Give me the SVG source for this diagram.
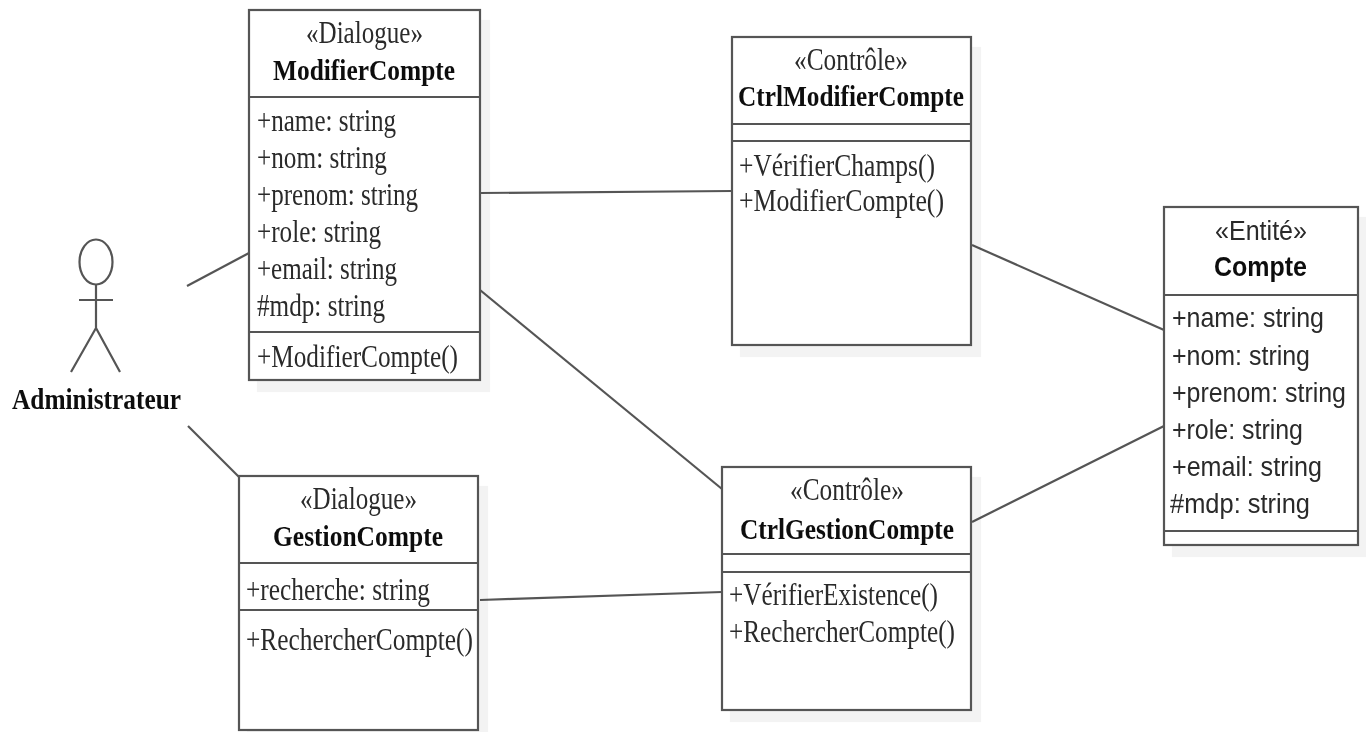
<svg xmlns="http://www.w3.org/2000/svg" width="1366" height="732" viewBox="0 0 1366 732">
<defs><filter id="sh" x="-5%" y="-5%" width="115%" height="115%"><feOffset dx="9" dy="11" in="SourceAlpha"/><feComponentTransfer><feFuncA type="linear" slope="0.05"/></feComponentTransfer><feMerge><feMergeNode/><feMergeNode in="SourceGraphic"/></feMerge></filter>
<filter id="soft" x="0" y="0" width="1366" height="732" filterUnits="userSpaceOnUse"><feGaussianBlur stdDeviation="0.5"/></filter></defs>
<style>
.b{fill:#fff;stroke:#555;stroke-width:2.2}
.l{stroke:#555;stroke-width:2.2;fill:none}
text{font-family:"Liberation Serif",serif;font-size:31px;fill:#2a2a2a}
.h{font-weight:bold;fill:#111;font-size:29px}
.s{font-family:"Liberation Sans",sans-serif;font-size:27.5px}
.ss{font-family:"Liberation Sans",sans-serif;font-size:27.5px}
.sh{font-family:"Liberation Sans",sans-serif;font-weight:bold;font-size:28px;fill:#111}
</style>
<g filter="url(#soft)">
<rect width="1366" height="732" fill="#fff"/>
<g id="connectors" class="l">
<path d="M187 286L249 253"/><path d="M188 426L240 478"/><path d="M480 193L732 191"/><path d="M480 290L722 489"/><path d="M480 600L722 592"/><path d="M972 245L1164 330"/><path d="M972 522L1164 426"/>
</g>
<g id="actor"><g class="l"><ellipse cx="96" cy="262" rx="16.500" ry="22.500"/><path d="M96 285V328M79 300H113M96 328L71 372M96 328L120 372"/></g>
<text x="12" y="409" class="h" textLength="169" lengthAdjust="spacingAndGlyphs">Administrateur</text></g>
<g id="modifier"><g filter="url(#sh)"><rect class="b" x="249" y="10" width="231" height="370"/></g><path class="l" d="M249 97H480M249 332H480"/>
<text x="306" y="43" textLength="117" lengthAdjust="spacingAndGlyphs">«Dialogue»</text><text class="h" x="273" y="80" textLength="182" lengthAdjust="spacingAndGlyphs">ModifierCompte</text>
<text x="257" y="131" textLength="139" lengthAdjust="spacingAndGlyphs">+name: string</text><text x="257" y="168" textLength="130" lengthAdjust="spacingAndGlyphs">+nom: string</text><text x="257" y="205" textLength="161" lengthAdjust="spacingAndGlyphs">+prenom: string</text><text x="257" y="242" textLength="124" lengthAdjust="spacingAndGlyphs">+role: string</text><text x="257" y="279" textLength="140" lengthAdjust="spacingAndGlyphs">+email: string</text><text x="257" y="316" textLength="128" lengthAdjust="spacingAndGlyphs">#mdp: string</text><text x="257" y="367" textLength="201" lengthAdjust="spacingAndGlyphs">+ModifierCompte()</text></g>
<g id="ctrlmod"><g filter="url(#sh)"><rect class="b" x="732" y="37" width="239" height="308"/></g><path class="l" d="M732 124H971M732 141H971"/>
<text x="794" y="70" textLength="114" lengthAdjust="spacingAndGlyphs">«Contrôle»</text><text class="h" x="738" y="106" textLength="226" lengthAdjust="spacingAndGlyphs">CtrlModifierCompte</text>
<text x="739" y="176" textLength="196" lengthAdjust="spacingAndGlyphs">+VérifierChamps()</text><text x="739" y="211" textLength="205" lengthAdjust="spacingAndGlyphs">+ModifierCompte()</text></g>
<g id="compte"><g filter="url(#sh)"><rect class="b" x="1164" y="207" width="194" height="338"/></g><path class="l" d="M1164 295H1358M1164 531H1358"/>
<text class="ss" x="1215" y="240" textLength="92" lengthAdjust="spacingAndGlyphs">«Entité»</text><text class="sh" x="1214" y="276" textLength="93" lengthAdjust="spacingAndGlyphs">Compte</text>
<text class="s" x="1172" y="327" textLength="152" lengthAdjust="spacingAndGlyphs">+name: string</text><text class="s" x="1172" y="365" textLength="138" lengthAdjust="spacingAndGlyphs">+nom: string</text><text class="s" x="1172" y="402" textLength="174" lengthAdjust="spacingAndGlyphs">+prenom: string</text><text class="s" x="1172" y="439" textLength="131" lengthAdjust="spacingAndGlyphs">+role: string</text><text class="s" x="1172" y="476" textLength="150" lengthAdjust="spacingAndGlyphs">+email: string</text><text class="s" x="1170" y="513" textLength="140" lengthAdjust="spacingAndGlyphs">#mdp: string</text></g>
<g id="gestion"><g filter="url(#sh)"><rect class="b" x="239" y="476" width="239" height="254"/></g><path class="l" d="M239 563H478M239 610H478"/>
<text x="300" y="509" textLength="117" lengthAdjust="spacingAndGlyphs">«Dialogue»</text><text class="h" x="273" y="546" textLength="170" lengthAdjust="spacingAndGlyphs">GestionCompte</text>
<text x="246" y="600" textLength="184" lengthAdjust="spacingAndGlyphs">+recherche: string</text><text x="246" y="650" textLength="227" lengthAdjust="spacingAndGlyphs">+RechercherCompte()</text></g>
<g id="ctrlgest"><g filter="url(#sh)"><rect class="b" x="722" y="467" width="249" height="243"/></g><path class="l" d="M722 554H971M722 572H971"/>
<text x="790" y="500" textLength="114" lengthAdjust="spacingAndGlyphs">«Contrôle»</text><text class="h" x="740" y="539" textLength="214" lengthAdjust="spacingAndGlyphs">CtrlGestionCompte</text>
<text x="729" y="605" textLength="209" lengthAdjust="spacingAndGlyphs">+VérifierExistence()</text><text x="729" y="642" textLength="226" lengthAdjust="spacingAndGlyphs">+RechercherCompte()</text></g>
</g>
</svg>
